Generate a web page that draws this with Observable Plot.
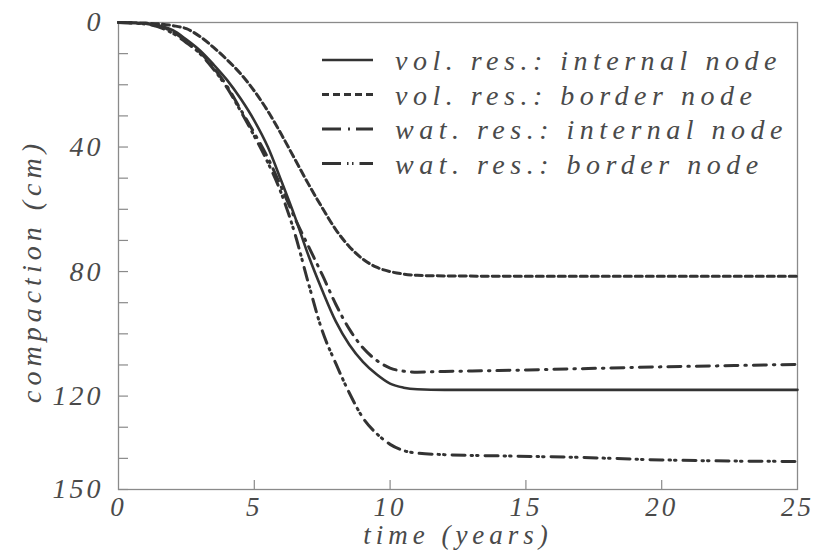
<!DOCTYPE html>
<html>
<head>
<meta charset="utf-8">
<script src="https://cdn.jsdelivr.net/npm/d3@7"></script>
<script src="https://cdn.jsdelivr.net/npm/@observablehq/plot@0.6"></script>
<style>
  html, body { margin: 0; padding: 0; background: #fff; }
</style>
</head>
<body>
<div id="chart"></div>
<script>
// ---- Data ----
const seriesNames = [
  "vol. res.: internal node",
  "vol. res.: border node",
  "wat. res.: internal node",
  "wat. res.: border node"
];

const volInternalT = [0, 1, 2, 2.5, 3, 3.5, 4, 4.5, 5, 5.5, 6, 6.5, 7, 7.5, 8, 8.5, 9, 9.5, 10, 10.5, 11, 12, 15, 20, 25];
const volInternalC = [0, 0.3, 2.5, 5.5, 9, 13.5, 18.5, 24.5, 31.5, 40, 51, 62.5, 75, 86, 96, 103.5, 109, 113, 116, 117.3, 117.8, 118, 118, 118, 118];

const volBorderT = [0, 1, 2, 2.5, 3, 3.5, 4, 4.5, 5, 5.5, 6, 6.5, 7, 7.5, 8, 8.5, 9, 9.5, 10, 10.5, 11, 12, 15, 20, 25];
const volBorderC = [0, 0.2, 1, 2, 4.5, 8, 12, 16.5, 22, 28.5, 36, 44, 52, 59.5, 66.5, 72, 76, 78.6, 80, 80.8, 81.2, 81.4, 81.5, 81.5, 81.5];

const watInternalT = [0, 1, 2, 2.5, 3, 3.5, 4, 4.5, 5, 5.5, 6, 6.5, 7, 7.5, 8, 8.5, 9, 9.5, 10, 10.5, 11, 12, 14, 17, 20, 22, 25];
const watInternalC = [0, 0.4, 3, 6, 9.5, 14.5, 20.5, 28, 35.5, 43.5, 53, 63, 72, 81, 90.5, 98.5, 104.5, 108.5, 111, 112, 112.3, 112.1, 111.8, 111.2, 110.6, 110.3, 109.8];

const watBorderT = [0, 1, 2, 2.5, 3, 3.5, 4, 4.5, 5, 5.5, 6, 6.5, 7, 7.5, 8, 8.5, 9, 9.5, 10, 10.5, 11, 12, 14, 17, 20, 22, 25];
const watBorderC = [0, 0.5, 3.5, 6.5, 10, 15, 21, 28.5, 36.5, 45, 55, 68, 84, 99, 109.5, 119, 127, 132, 135.5, 137.5, 138.3, 138.8, 139.2, 139.7, 140.5, 140.8, 141];

const xTicks = [5, 10, 15, 20];
const xTickLabels = [0, 5, 10, 15, 20, 25];
const yTicks = d3.range(0, 151, 10);
const yTickLabels = [0, 40, 80, 120, 150];
const xTitle = "time (years)";
const yTitle = "compaction (cm)";

// ---- Build tables ----
const toRows = (T, C) => T.map((t, i) => ({t, c: C[i]}));
const volInternal = toRows(volInternalT, volInternalC);
const volBorder = toRows(volBorderT, volBorderC);
const watInternal = toRows(watInternalT, watInternalC);
const watBorder = toRows(watBorderT, watBorderC);

const ink = "#333";
const axisGray = "#8a8a8a";
const textGray = "#4a4a4a";
const fontFamily = "'Liberation Serif', 'DejaVu Serif', serif";

const styles = [
  {dash: null, width: 2.6, legendDash: null},
  {dash: "7,4", width: 3, legendDash: "7,4"},
  {dash: "13,7,1.5,7", width: 3, legendDash: "19,7,2,6,19"},
  {dash: "13,6,1.5,4,1.5,7", width: 3, legendDash: "19,6,1.5,3.5,1.5,6,19"}
];
const tables = [volInternal, volBorder, watInternal, watBorder];

const W = 820, H = 551;
const mL = 118, mR = 23, mT = 22, mB = 62;
const plotW = W - mL - mR, plotH = H - mT - mB;

const lineMarks = tables.map((data, i) => Plot.line(data, {
  x: "t", y: "c", curve: "monotone-x",
  stroke: ink, strokeWidth: styles[i].width,
  strokeDasharray: styles[i].dash
}));

const chart = Plot.plot({
  width: W, height: H,
  marginLeft: mL, marginRight: mR, marginTop: mT, marginBottom: mB,
  style: {fontFamily, fontStyle: "italic", fontSize: "28px", color: textGray, background: "#fff"},
  x: {domain: [0, 25], label: null},
  y: {domain: [0, 150], reverse: true, label: null},
  marks: [
    Plot.frame({stroke: axisGray, strokeWidth: 1.3}),
    Plot.tickY(yTicks, {y: d => d, insetRight: plotW - 10, stroke: axisGray, strokeWidth: 1.2}),
    Plot.tickX(xTicks, {x: d => d, insetTop: plotH - 9, stroke: axisGray, strokeWidth: 1.2}),
    Plot.axisY({ticks: yTickLabels, tickSize: 0, tickPadding: 15, label: null, fontSize: 28, fill: textGray}),
    Plot.axisX({ticks: xTickLabels, tickSize: 0, tickPadding: 7, label: null, fontSize: 27, fill: textGray}),
    ...lineMarks,
    Plot.text([xTitle], {text: d => d, frameAnchor: "bottom", lineAnchor: "middle", textAnchor: "middle", dy: 46, fontSize: 27, fill: textGray, className: "title-x"}),
    Plot.text([yTitle], {text: d => d, frameAnchor: "left", lineAnchor: "middle", textAnchor: "middle", rotate: -90, dx: -86, dy: 15, fontSize: 28, fill: textGray, className: "title-y"})
  ]
});

chart.style.letterSpacing = "3px";
d3.select(chart).selectAll(".title-x text").style("letter-spacing", "5px");
d3.select(chart).selectAll(".title-y text").style("letter-spacing", "5px");

// ---- Legend inside the plot area ----
const svg = d3.select(chart);
const legend = svg.append("g").attr("class", "legend");
const legX1 = 322, legX2 = 373, legTextX = 395, legY0 = 60, legDY = 34.5;
seriesNames.forEach((name, i) => {
  const y = legY0 + i * legDY;
  legend.append("line")
    .attr("x1", legX1).attr("x2", legX2).attr("y1", y).attr("y2", y)
    .attr("stroke", ink).attr("stroke-width", styles[i].width)
    .attr("stroke-dasharray", styles[i].legendDash);
  legend.append("text")
    .attr("x", legTextX).attr("y", y + 10)
    .attr("text-anchor", "start")
    .attr("fill", textGray)
    .style("font-family", fontFamily).style("font-style", "italic")
    .style("font-size", "28px").style("letter-spacing", "5.5px")
    .text(name);
});

document.getElementById("chart").appendChild(chart);
</script>
</body>
</html>
